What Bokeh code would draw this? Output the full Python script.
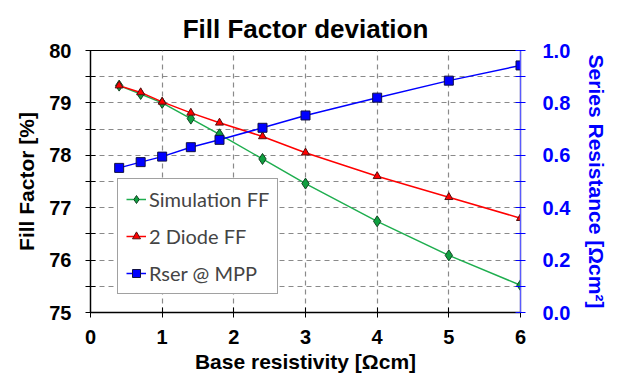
from bokeh.plotting import figure
from bokeh.models import Range1d, LinearAxis, FixedTicker, Legend, LegendItem, CustomJSTickFormatter
from bokeh.embed import file_html
from bokeh.resources import INLINE

x_vals = [0.4, 0.7, 1.0, 1.4, 1.8, 2.4, 3.0, 4.0, 5.0, 6.0]
sim_ff = [79.33, 79.17, 79.00, 78.70, 78.40, 77.93, 77.46, 76.74, 76.09, 75.52]
diode_ff = [79.33, 79.20, 79.02, 78.81, 78.62, 78.36, 78.05, 77.60, 77.20, 76.80]
rser = [0.552, 0.574, 0.595, 0.631, 0.659, 0.705, 0.752, 0.820, 0.885, 0.943]

x_ticks = [0, 1, 2, 3, 4, 5, 6]
ff_ticks = [75, 76, 77, 78, 79, 80]
ff_minor = [75.5, 76.5, 77.5, 78.5, 79.5]
rs_ticks = [0.0, 0.2, 0.4, 0.6, 0.8, 1.0]
rs_minor = [0.1, 0.3, 0.5, 0.7, 0.9]

FONT = "Liberation Sans"
GREEN = "#1fae4f"
RED = "#ff0000"
BLUE = "#0000ff"

p = figure(width=627, height=381, output_backend="svg", toolbar_location=None,
           x_range=Range1d(0, 6), y_range=Range1d(75, 80),
           min_border_left=90, min_border_right=107, min_border_top=50,
           min_border_bottom=69)
p.title.text = "Fill Factor deviation"
p.title.align = "center"
p.title.vertical_align = "top"
p.title.text_font = FONT
p.title.text_font_size = "26px"
p.title.text_font_style = "bold"
p.title.text_color = "black"
p.title.standoff = 10
p.outline_line_color = "black"
p.outline_line_width = 1.2

p.extra_y_ranges = {"rs": Range1d(0, 1)}

# axes
xa = p.xaxis[0]
xa.ticker = FixedTicker(ticks=x_ticks)
xa.axis_label = "Base resistivity [Ωcm]"
ya = p.yaxis[0]
ya.ticker = FixedTicker(ticks=ff_ticks, minor_ticks=ff_minor)
ya.axis_label = "Fill Factor [%]"
ra = LinearAxis(y_range_name="rs", ticker=FixedTicker(ticks=rs_ticks, minor_ticks=rs_minor),
                axis_label="Series Resistance [Ωcm²]")
ra.formatter = CustomJSTickFormatter(code="return tick.toFixed(1);")
p.add_layout(ra, "right")

for ax, col in ((xa, "black"), (ya, "black"), (ra, BLUE)):
    ax.axis_line_color = col if col == "black" else "#5a5aff"
    ax.axis_line_width = 1.3
    ax.major_tick_line_color = col
    ax.minor_tick_line_color = col
    ax.major_tick_in = 5
    ax.major_tick_out = 5
    ax.minor_tick_in = 5
    ax.minor_tick_out = 5
    ax.major_label_text_font = FONT
    ax.major_label_text_font_style = "bold"
    ax.major_label_text_font_size = "20px"
    ax.major_label_text_color = col
    ax.axis_label_text_font = FONT
    ax.axis_label_text_font_style = "bold"
    ax.axis_label_text_font_size = "21px"
    ax.axis_label_text_color = col
xa.major_label_standoff = 12
xa.axis_label_standoff = 3
ya.major_label_standoff = 14
ya.axis_label_standoff = 8
ra.major_label_standoff = 17
ra.axis_label_standoff = 12

# grids
for g in (p.xgrid[0], p.ygrid[0]):
    g.grid_line_color = "#8a8a8a"
    g.grid_line_dash = "5 4"
    g.grid_line_width = 1.2
p.ygrid[0].minor_grid_line_color = "#8a8a8a"
p.ygrid[0].minor_grid_line_dash = "5 4"
p.ygrid[0].minor_grid_line_width = 1.2

# series
l1 = p.line(x_vals, sim_ff, line_color=GREEN, line_width=1.5)
s1 = p.scatter(x_vals, sim_ff, marker="diamond", size=11, fill_color="#0fa040", line_color="#114422")
l2 = p.line(x_vals, diode_ff, line_color=RED, line_width=1.5)
s2 = p.scatter(x_vals, diode_ff, marker="triangle", size=8, fill_color=RED, line_color="#551111")
l3 = p.line(x_vals, rser, line_color=BLUE, line_width=1.5, y_range_name="rs")
s3 = p.scatter(x_vals, rser, marker="square", size=9, fill_color=BLUE, line_color="#111144", y_range_name="rs")

legend = Legend(items=[
    LegendItem(label="Simulation FF", renderers=[l1, s1]),
    LegendItem(label="2 Diode FF", renderers=[l2, s2]),
    LegendItem(label="Rser @ MPP", renderers=[l3, s3]),
], location=(27, 18))
legend.label_text_font = "Lato"
legend.label_text_font_size = "20px"
legend.border_line_color = "#444444"
legend.border_line_width = 1.2
legend.background_fill_color = "white"
legend.background_fill_alpha = 1
legend.glyph_width = 20
legend.glyph_height = 22
legend.label_height = 22
legend.label_standoff = 3
legend.spacing = 13
legend.padding = 8
legend.margin = 0
p.add_layout(legend, "center")

open("out.html", "w").write(file_html(p, INLINE))
